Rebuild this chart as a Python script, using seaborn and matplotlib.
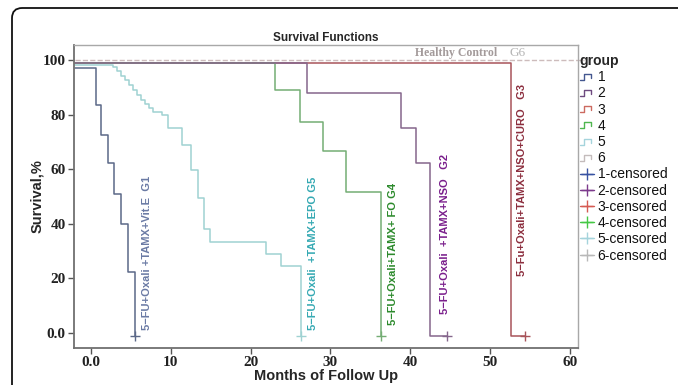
import numpy as np
import pandas as pd
import matplotlib
matplotlib.use("Agg")
import matplotlib.pyplot as plt
import seaborn as sns
from matplotlib.lines import Line2D
from matplotlib.legend_handler import HandlerBase
from matplotlib.patches import FancyBboxPatch

# ---------------- data ----------------
g1_time = [-2, 0.7, 1.3, 2.2, 2.9, 3.8, 4.6, 5.5]
g1_surv = [97, 83.5, 72.5, 62.3, 51, 40, 22.3, -1]
g2_time = [-2, 27.1, 38.8, 40.7, 42.5, 44.6]
g2_surv = [99, 87.8, 75, 62.1, -1, -1]
g3_time = [-2, 52.6, 54.4]
g3_surv = [99, -1, -1]
g4_time = [-2, 23.1, 26.2, 29.1, 32.0, 36.3]
g4_surv = [99, 89, 77.4, 66.8, 51.8, -1]
g5_time = [-2, 2.8, 3.3, 3.8, 4.3, 4.8, 5.3, 5.8, 6.3, 6.8, 7.3, 7.8, 8.9,
           9.7, 11.4, 12.5, 13.4, 14.2, 14.9, 22.0, 23.8, 26.3]
g5_surv = [98, 97.5, 96, 94.3, 92.5, 90.8, 89, 87.3, 85.5, 83.8, 82.3, 81, 80,
           75, 68.9, 59.7, 49.3, 38, 33.3, 29, 24.7, -1]
g6_time = [-2, 61.8]
g6_surv = [100, 100]

censor_groups = ["1", "2", "3", "4", "5"]
censor_time = [5.5, 44.6, 54.4, 36.3, 26.3]
censor_surv = [-1, -1, -1, -1, -1]

groups = ["1", "2", "3", "4", "5", "6"]
curve_labels = ["5\u2212FU+Oxali +TAMX+Vit.E  G1",
                "5\u2212FU+Oxali  +TAMX+NSO   G2",
                "5\u2212Fu+Oxali+TAMX+NSO+CURO   G3",
                "5\u2212FU+Oxali+TAMX+ FO G4",
                "5\u2212FU+Oxali  +TAMX+EPO G5"]
label_x = [7.0, 44.4, 54.0, 37.9, 27.8]
label_y = [1.0, 7.0, 21.0, 3.0, 1.0]
xtick_vals = [0, 10, 20, 30, 40, 50, 60]
xtick_labels = ["0.0", "10", "20", "30", "40", "50", "60"]
ytick_vals = [0, 20, 40, 60, 80, 100]
ytick_labels = ["0.0", "20", "40", "60", "80", "100"]

# ---------------- style ----------------
line_colors = {"1": "#5b6888", "2": "#85668c", "3": "#a8545a",
               "4": "#74ad74", "5": "#9fd2d2", "6": "#cdbcbc"}
legend_line_colors = {"1": "#44578f", "2": "#6e4a80", "3": "#cc6a60",
                      "4": "#4fb64f", "5": "#a5d4dc", "6": "#c4bcbc"}
censor_colors = {"1": "#3853a3", "2": "#7c3a8c", "3": "#d65a52",
                 "4": "#45c845", "5": "#a5d4dc", "6": "#b8b8b8"}
text_colors = ["#6a7aa4", "#7a1f8c", "#8c2e3e", "#2c8a2c", "#35a9b3"]

sns.set_style("white")
plt.rcParams["font.family"] = ["Liberation Sans", "DejaVu Sans"]

fig = plt.figure(figsize=(6.78, 3.85), dpi=100)
ax = fig.add_axes([74 / 678, 1 - 348 / 385, (578 - 74) / 678, (348 - 45) / 385])

curves = {"1": (g1_time, g1_surv), "2": (g2_time, g2_surv),
          "3": (g3_time, g3_surv), "4": (g4_time, g4_surv),
          "5": (g5_time, g5_surv), "6": (g6_time, g6_surv)}

for g in ["6", "5", "1", "3", "4", "2"]:
    t, s = curves[g]
    df = pd.DataFrame({"time": t, "surv": s})
    sns.lineplot(data=df, x="time", y="surv", ax=ax, estimator=None, sort=False,
                 drawstyle="steps-post", color=line_colors[g],
                 lw=1.1 if g != "6" else 1.0,
                 linestyle="--" if g == "6" else "-",
                 legend=False, clip_on=(g != "6"))

cdf = pd.DataFrame({"time": censor_time, "surv": censor_surv, "group": censor_groups})
for i, row in cdf.iterrows():
    sns.scatterplot(x=[row["time"]], y=[row["surv"]], ax=ax, marker="+", s=45,
                    color=line_colors[row["group"]], linewidth=1.0, legend=False,
                    zorder=5)

ax.set_xlim(-2.1, 61.0)
ax.set_ylim(-5.5, 105.5)
ax.set_xticks(xtick_vals)
ax.set_xticklabels(xtick_labels)
ax.set_yticks(ytick_vals)
ax.set_yticklabels(ytick_labels)
for lab in ax.get_xticklabels() + ax.get_yticklabels():
    lab.set_fontfamily(["Liberation Serif", "DejaVu Serif"])
    lab.set_fontweight("bold")
    lab.set_fontsize(11)
    lab.set_color("#222222")
ax.tick_params(axis="both", direction="out", length=4, width=1.0, color="#555555",
               pad=2, bottom=True, left=True)

for side in ["left", "bottom"]:
    ax.spines[side].set_color("#707070")
    ax.spines[side].set_linewidth(1.3)
for side in ["top", "right"]:
    ax.spines[side].set_color("#a8a8a8")
    ax.spines[side].set_linewidth(1.0)

ax.set_xlabel("Months of Follow Up", fontsize=10.5, fontweight="bold", labelpad=0)
ax.set_ylabel("Survival,%", fontsize=10.5, fontweight="bold", labelpad=-1)
ax.set_title("Survival Functions", fontsize=8.5, fontweight="bold", pad=3)

# rotated curve labels
for txt, x, y, c in zip(curve_labels, label_x, label_y, text_colors):
    ax.text(x, y, txt, rotation=90, ha="center", va="bottom", fontsize=8,
            fontweight="bold", color=c)

ax.text(45.7, 102.6, "Healthy Control", ha="center", va="center", fontsize=8.5,
        family=["Liberation Serif", "DejaVu Serif"], fontweight="bold", color="#a39a9a")
ax.text(53.4, 102.6, "G6", ha="center", va="center", fontsize=9.5,
        family=["Liberation Serif", "DejaVu Serif"], color="#b5b5b5")


# ---------------- legend ----------------
class StepHandler(HandlerBase):
    def create_artists(self, legend, orig_handle, xdescent, ydescent, width,
                       height, fontsize, trans):
        w, h = width, height
        xs = np.array([0.0, 0.28, 0.28, 0.85, 0.85]) * w - xdescent
        ys = np.array([0.15, 0.15, 0.75, 0.75, 0.35]) * h - ydescent
        ln = Line2D(xs, ys, color=orig_handle.get_color(), lw=1.0)
        ln.set_transform(trans)
        return [ln]


handles = []
labels = []
for g in groups:
    handles.append(Line2D([], [], color=legend_line_colors[g]))
    labels.append(g)
censor_handles = []
for g in groups:
    h = Line2D([], [], color=censor_colors[g], marker="+", markersize=8, lw=1.0)
    censor_handles.append(h)
    labels.append(g + "-censored")

handler_map = {h: StepHandler() for h in handles}
leg = ax.legend(handles + censor_handles, labels, handler_map=handler_map,
                loc="upper left", bbox_to_anchor=(0.855, 0.86),
                bbox_transform=fig.transFigure, frameon=False, fontsize=10,
                title="group", title_fontproperties={"weight": "bold", "size": 10},
                alignment="left", handlelength=1.0, handletextpad=0.3,
                labelspacing=0.16, borderpad=0, borderaxespad=0)
for t in leg.get_texts():
    t.set_color("#111111")

# outer rounded frame
top = 1 - 8 / 385
frame = FancyBboxPatch((12 / 678, -0.2), 1.2, top + 0.2,
                       boxstyle="round,pad=0,rounding_size=0.015",
                       mutation_aspect=678 / 385,
                       transform=fig.transFigure, fill=False, ec="#111111",
                       lw=1.3, clip_on=False)
fig.patches.append(frame)

fig.savefig("out.png", dpi=100)
